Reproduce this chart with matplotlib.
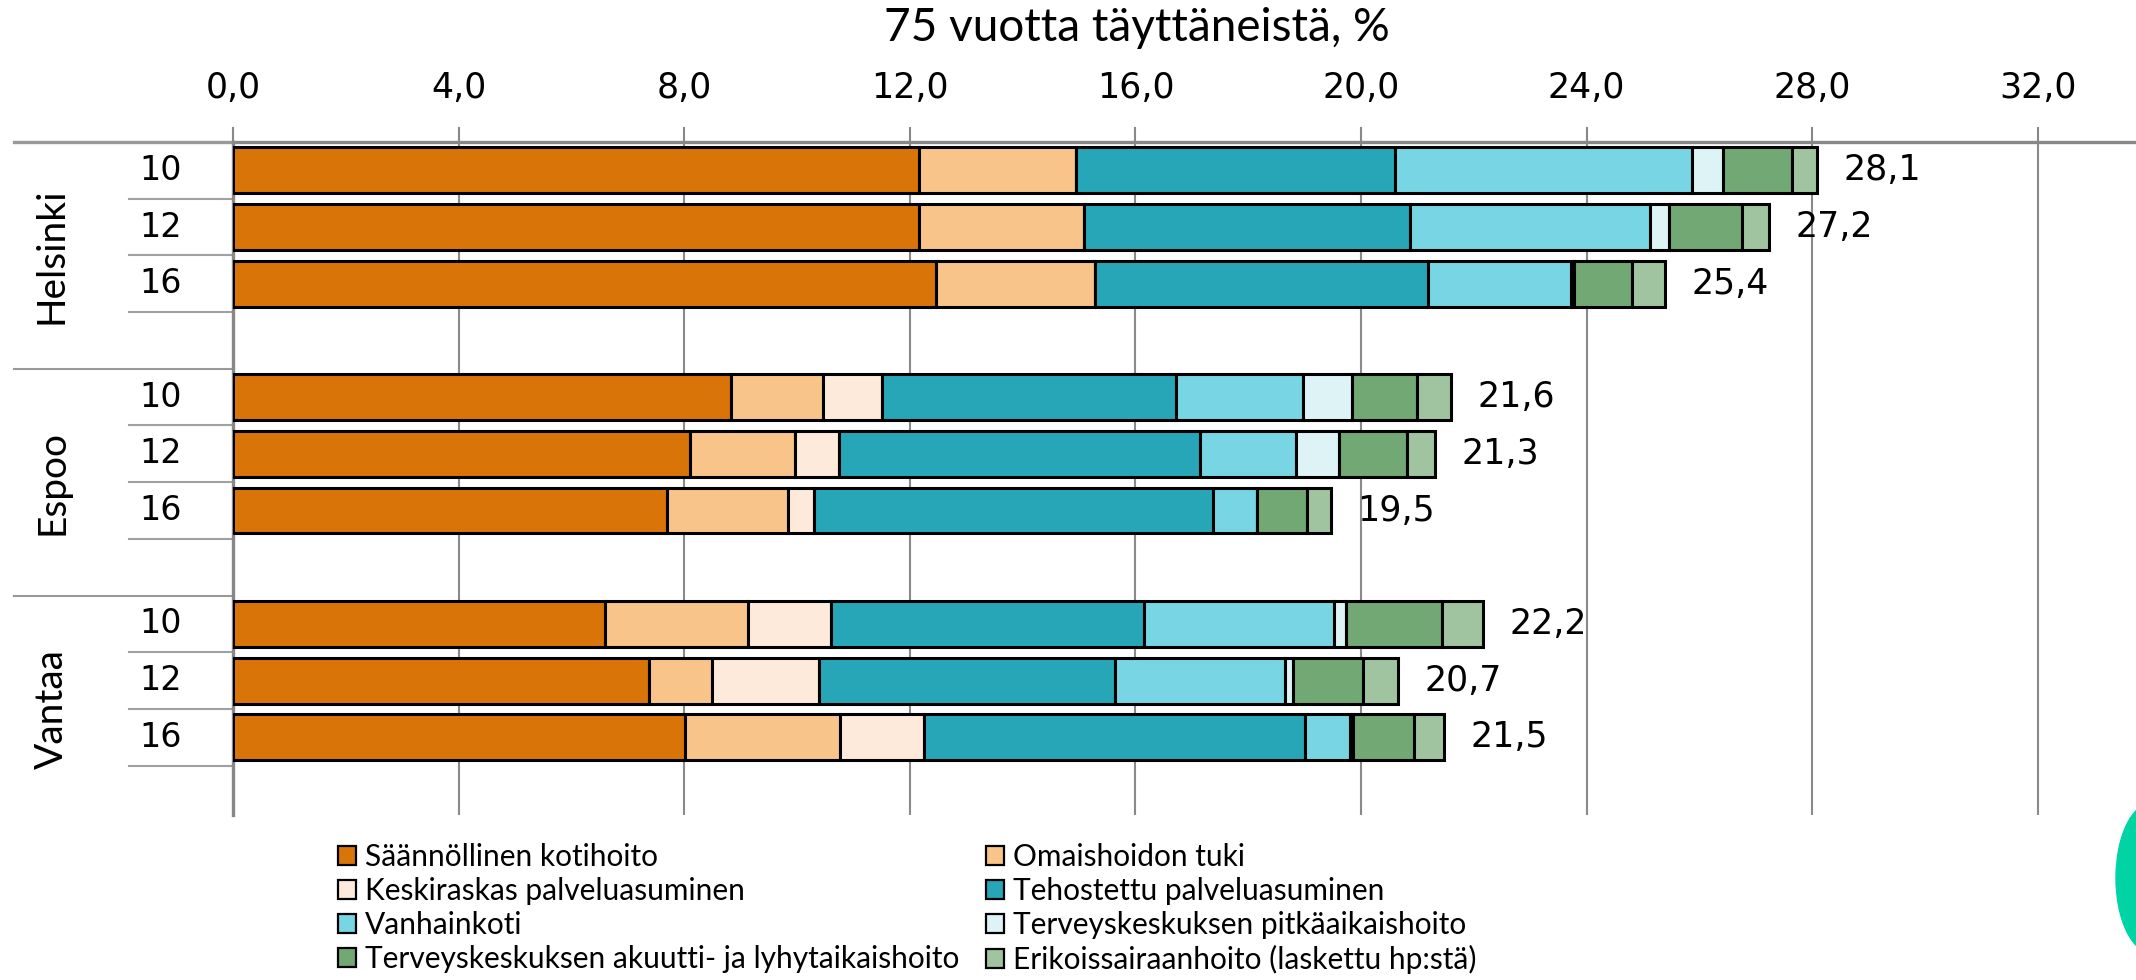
"""Pinottu vaakapylväskuvio: 75 vuotta täyttäneiden palvelut, Helsinki / Espoo / Vantaa."""
import matplotlib
matplotlib.use("Agg")
import matplotlib.pyplot as plt
from matplotlib.patches import Rectangle, Ellipse
from matplotlib.ticker import FuncFormatter, MultipleLocator
import matplotlib.transforms as mtransforms

plt.rcParams["font.family"] = ["DejaVu Sans"]

# --- data ---
cities = ["Helsinki", "Espoo", "Vantaa"]
years = ["10", "12", "16"]

series_names = [
    "Säännöllinen kotihoito",
    "Omaishoidon tuki",
    "Keskiraskas palveluasuminen",
    "Tehostettu palveluasuminen",
    "Vanhainkoti",
    "Terveyskeskuksen pitkäaikaishoito",
    "Terveyskeskuksen akuutti- ja lyhytaikaishoito",
    "Erikoissairaanhoito (laskettu hp:stä)",
]
# järjestys: Helsinki 10,12,16 / Espoo 10,12,16 / Vantaa 10,12,16
kotihoito = [12.17, 12.17, 12.46, 8.83, 8.11, 7.69, 6.59, 7.37, 8.01]
omaishoito = [2.78, 2.91, 2.83, 1.63, 1.86, 2.15, 2.55, 1.12, 2.75]
keskiraskas = [0.0, 0.0, 0.0, 1.05, 0.77, 0.46, 1.46, 1.90, 1.49]
tehostettu = [5.66, 5.78, 5.90, 5.21, 6.41, 7.08, 5.55, 5.25, 6.76]
vanhainkoti = [5.25, 4.27, 2.54, 2.25, 1.69, 0.77, 3.37, 3.01, 0.80]
pitkaaikais = [0.55, 0.33, 0.05, 0.87, 0.77, 0.0, 0.22, 0.15, 0.05]
akuutti = [1.23, 1.30, 1.02, 1.15, 1.21, 0.89, 1.69, 1.24, 1.08]
erikois = [0.44, 0.47, 0.59, 0.60, 0.50, 0.43, 0.73, 0.62, 0.54]

colors = ["#D97408", "#F8C48A", "#FDEADB", "#27A6B7",
          "#78D5E3", "#DDF3F6", "#72A874", "#A0C4A0"]

series = [kotihoito, omaishoito, keskiraskas, tehostettu,
          vanhainkoti, pitkaaikais, akuutti, erikois]

# rivipaikat: 3 palkkia + tyhjä rivi per kaupunki
slots = [0, 1, 2, 4, 5, 6, 8, 9, 10]

W, H = 2136, 980
fig = plt.figure(figsize=(W / 100, H / 100), dpi=100)
ax_left, ax_top, ax_bottom = 233, 142, 815
ax = fig.add_axes([ax_left / W, 1 - ax_bottom / H, (W - ax_left) / W, (ax_bottom - ax_top) / H])

px_per_unit = 56.4
ax.set_xlim(0, (W - ax_left) / px_per_unit)
ax.set_ylim(11.37, -0.5)

# --- palkit ---
left = [0.0] * len(slots)
for vals, col in zip(series, colors):
    ax.barh(slots, vals, left=left, height=0.81, color=col,
            edgecolor="black", linewidth=2.2, zorder=3)
    left = [l + v for l, v in zip(left, vals)]

for y, tot in zip(slots, left):
    ax.annotate(f"{tot:.1f}".replace(".", ","), (tot, y), xytext=(19, 0),
                textcoords="offset points", va="center", ha="left", fontsize=25)

# --- akselit ---
ax.xaxis.tick_top()
ax.xaxis.set_major_locator(MultipleLocator(4))
ax.xaxis.set_major_formatter(FuncFormatter(lambda v, p: f"{v:.1f}".replace(".", ",") if v <= 32 else ""))
ax.tick_params(axis="x", length=11, width=1.5, color="#888888", pad=16, labelsize=25)
ax.set_yticks([])
ax.grid(axis="x", color="#8a8a8a", linewidth=1.5, zorder=0)
for s in ["right", "bottom"]:
    ax.spines[s].set_visible(False)
ax.spines["top"].set_color("#888888")
ax.spines["top"].set_linewidth(2.4)
ax.spines["left"].set_color("#888888")
ax.spines["left"].set_linewidth(2.4)

# kaksitasoinen luokka-akseli
trans = mtransforms.blended_transform_factory(ax.transAxes, ax.transData)
year_x0 = (129 - ax_left) / (W - ax_left)
city_x0 = (14 - ax_left) / (W - ax_left)
for y in [0.5, 1.5, 2.5, 4.5, 5.5, 6.5, 8.5, 9.5, 10.5]:
    ax.plot([year_x0, 0], [y, y], transform=trans, color="#a0a0a0", lw=1.5, clip_on=False)
for y in [-0.5, 3.5, 7.5]:
    ax.plot([city_x0, 0], [y, y], transform=trans, color="#999999",
            lw=2.4 if y < 0 else 1.5, clip_on=False)

year_xc = (161 - ax_left) / (W - ax_left)
for i, y in enumerate(slots):
    ax.text(year_xc, y, years[i % 3], transform=trans, ha="center", va="center", fontsize=24)

city_xc = (52 - ax_left) / (W - ax_left)
for i, c in enumerate(cities):
    ax.text(city_xc, 4 * i + 1.5, c, transform=trans, rotation=90, ha="center",
            va="center", fontsize=28, family="Lato")

fig.text(1137 / W, 1 - 28 / H, "75 vuotta täyttäneistä, %", ha="center", va="center",
         fontsize=33, family="Lato")

# --- selite (rivijärjestys kuten alkuperäisessä) ---
handles = [Rectangle((0, 0), 1, 1, facecolor=c, edgecolor="black", lw=1.6) for c in colors]
order = [0, 2, 4, 6, 1, 3, 5, 7]
fig.legend([handles[i] for i in order], [series_names[i] for i in order],
           ncol=2, loc="upper left", bbox_to_anchor=(338 / W, 1 - 843 / H),
           frameon=False, prop={"family": "Lato", "size": 21.5},
           handlelength=0.6, handleheight=0.6, handletextpad=0.3,
           columnspacing=0.9, labelspacing=0.2, borderpad=0, borderaxespad=0)

# oikean alakulman vihreä koriste
fig.patches.append(Ellipse((2152 / W, 1 - 878 / H), 72 / W, 150 / H,
                           transform=fig.transFigure, color="#00D4A4", zorder=5))

fig.savefig("out.png", dpi=100)
